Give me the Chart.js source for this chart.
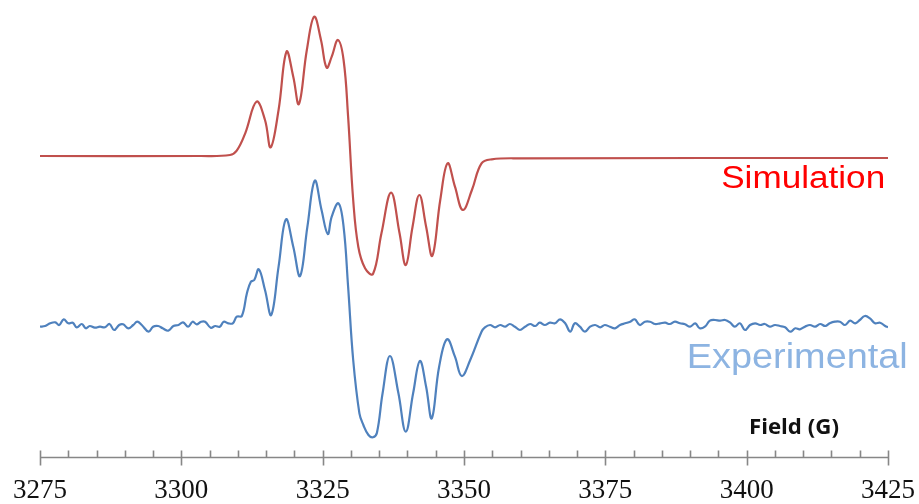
<!DOCTYPE html>
<html>
<head>
<meta charset="utf-8">
<script src="https://cdn.jsdelivr.net/npm/chart.js@4"></script>
<style>
  html, body { margin: 0; padding: 0; background: #fff; }
  #epr { display: block; }
</style>
</head>
<body>
<canvas id="epr" width="919" height="504"></canvas>
<script>
// Field axis
const fieldMin = 3275;
const fieldMax = 3425;
const majorStep = 25;
const minorStep = 5;

// Simulated spectrum (field in G, intensity in arbitrary units)
const simField = [3275.0, 3303.3, 3308.6, 3309.8, 3311.3, 3313.3, 3314.8, 3315.8, 3317.2, 3318.6,
  3319.8, 3320.8, 3322.2, 3323.5, 3324.7, 3325.7, 3326.6, 3327.7, 3328.7, 3329.5,
  3330.4, 3331.3, 3332.5, 3333.9, 3335.4, 3337.1, 3338.6, 3339.7, 3340.9, 3342.1,
  3343.3, 3344.4, 3345.8, 3347.1, 3348.4, 3349.8, 3351.4, 3353.1, 3354.9, 3359.9, 3425.0];
const simValue = [301, 301, 302, 306.3, 323.7, 355.3, 337, 309.7, 347, 405.3,
  380.3, 353, 407, 440.3, 417, 389.3, 400.3, 417, 397, 340.3,
  257, 210.3, 188.7, 183, 223.7, 264.3, 223.7, 192, 230.3, 262,
  230.3, 201.3, 257, 293.7, 270.3, 247, 267, 293.7, 297.7, 298.7, 299];

// Experimental spectrum
const expField = [3275.0, 3275.9, 3276.8, 3277.7, 3278.4, 3279.2, 3280.0, 3280.8, 3281.5, 3282.4,
  3283.1, 3283.8, 3284.7, 3285.6, 3286.5, 3287.3, 3288.1, 3289.0, 3289.7, 3290.6,
  3291.5, 3292.2, 3293.0, 3294.2, 3295.0, 3295.9, 3296.7, 3297.7, 3298.6, 3299.5,
  3300.3, 3301.2, 3302.0, 3302.7, 3303.5, 3304.2, 3305.2, 3306.0, 3306.8, 3307.5,
  3308.3, 3309.1, 3309.8, 3310.7, 3311.6, 3312.3, 3312.9, 3313.7, 3314.8, 3315.9,
  3317.2, 3318.5, 3319.8, 3321.0, 3322.3, 3323.6, 3324.8, 3325.9, 3326.6, 3327.8,
  3328.7, 3329.5, 3330.4, 3331.5, 3332.2, 3333.1, 3333.9, 3334.6, 3335.6, 3336.9,
  3338.4, 3339.7, 3341.0, 3342.2, 3343.3, 3344.3, 3345.6, 3347.0, 3348.4, 3349.6,
  3351.1, 3353.1, 3353.7, 3354.6, 3355.5, 3356.4, 3357.3, 3358.1, 3359.0, 3359.9,
  3360.8, 3361.7, 3362.6, 3363.4, 3364.3, 3365.2, 3366.1, 3367.0, 3367.9, 3368.8,
  3369.6, 3370.5, 3371.4, 3372.3, 3373.2, 3374.1, 3374.9, 3375.8, 3376.7, 3377.6,
  3378.5, 3379.4, 3380.2, 3381.1, 3382.0, 3382.9, 3383.8, 3384.7, 3385.6, 3386.4,
  3387.3, 3388.2, 3389.1, 3390.0, 3390.9, 3391.7, 3392.6, 3393.5, 3394.4, 3395.3,
  3396.2, 3397.1, 3397.9, 3398.8, 3399.7, 3400.6, 3401.5, 3402.4, 3403.2, 3404.1,
  3405.0, 3405.9, 3406.8, 3407.7, 3408.6, 3409.4, 3410.3, 3411.2, 3412.1, 3413.0,
  3413.9, 3414.7, 3415.6, 3416.5, 3417.4, 3418.3, 3419.2, 3420.0, 3420.9, 3421.8,
  3422.7, 3423.6, 3424.5, 3425.0];
const expValue = [130.3, 131, 133.7, 134.7, 132, 137.7, 133.7, 134.3, 129.7, 133,
  128.7, 131, 129.3, 130.3, 129.7, 133, 127, 132, 132.7, 128.7,
  132, 135.3, 132, 125.3, 130.3, 131, 128.7, 126.3, 131, 132,
  134.7, 130.3, 135.3, 132.7, 135.3, 135.3, 129.3, 131, 130.3, 135.3,
  133.7, 133.7, 140.3, 141, 163.7, 175.3, 177, 187.7, 167, 142,
  190.3, 237.7, 210.3, 181, 230.3, 276.3, 247, 223, 240.3, 253.7,
  230.3, 170.3, 97, 43.7, 32, 22, 19.7, 24.3, 63.7, 101,
  63.7, 25.3, 63.7, 96, 70.3, 38.7, 90.3, 117.7, 100.3, 81,
  97, 125.3, 129.7, 132, 129.7, 132, 130.3, 133, 130.3, 127,
  130.3, 133, 131, 134.3, 132, 134.3, 133.7, 137.7, 133.7, 125.3,
  133.7, 130.3, 125.3, 130.3, 132, 129.7, 132, 130.3, 128.7, 132,
  133.7, 135.3, 137.7, 132, 135.3, 135.3, 133, 133.7, 134.3, 133,
  135.3, 133.7, 132.7, 130.3, 133.7, 128.7, 130.3, 136.3, 137, 136.3,
  137, 134.3, 130.3, 133.7, 127, 132, 133.7, 132, 133, 130.3,
  132, 131, 129.7, 125.3, 128.7, 127.7, 130.3, 132, 130.3, 133,
  131, 133.7, 135.3, 135.3, 132, 136.3, 133.7, 137, 141, 138.7,
  133.7, 134.3, 131, 129.7];

// Series names: [text, field of right edge, intensity of baseline, colour, font size, width]
const seriesLabels = [
  ["Simulation", 3424.5, 269, "#ff0000", 31, 164],
  ["Experimental", 3428.5, 89, "#8db4e2", 35, 221]
];
const axisTitle = "Field (G)";

const toXY = (xs, ys) => xs.map((x, i) => ({ x: x, y: ys[i] }));

const eprAxis = {
  id: "eprAxis",
  afterDatasetsDraw(chart) {
    const { ctx, chartArea, scales } = chart;
    const xs = scales.x;
    const base = Math.round(chartArea.bottom) + 0.5;
    ctx.save();
    ctx.strokeStyle = "#878787";
    ctx.lineWidth = 1.6;
    ctx.beginPath();
    ctx.moveTo(xs.getPixelForValue(fieldMin), base);
    ctx.lineTo(xs.getPixelForValue(fieldMax), base);
    for (let v = fieldMin; v <= fieldMax; v += minorStep) {
      const px = Math.round(xs.getPixelForValue(v)) + 0.5;
      const major = (v - fieldMin) % majorStep === 0;
      ctx.moveTo(px, base - 7);
      ctx.lineTo(px, major ? base + 8 : base);
    }
    ctx.stroke();

    // series names, stretched a little to match the original lettering
    ctx.textBaseline = "alphabetic";
    seriesLabels.forEach(([text, fx, fy, color, size, width]) => {
      ctx.font = size + "px 'Liberation Sans', Arial, sans-serif";
      const w = ctx.measureText(text).width;
      ctx.save();
      ctx.translate(xs.getPixelForValue(fx), scales.y.getPixelForValue(fy));
      ctx.scale(width / w, 1);
      ctx.fillStyle = color;
      ctx.textAlign = "right";
      ctx.fillText(text, 0, 0);
      ctx.restore();
    });

    // axis title sits above the axis, at the right
    ctx.font = "bold 21px 'Open Sans', 'DejaVu Sans', sans-serif";
    const tw = ctx.measureText(axisTitle).width;
    ctx.save();
    ctx.translate(xs.getPixelForValue(3400.4), scales.y.getPixelForValue(23));
    ctx.scale(90 / tw, 1);
    ctx.fillStyle = "#111";
    ctx.textAlign = "left";
    ctx.fillText(axisTitle, 0, 0);
    ctx.restore();
    ctx.restore();
  }
};

new Chart(document.getElementById("epr").getContext("2d"), {
  type: "line",
  data: {
    datasets: [
      {
        label: "Simulation",
        data: toXY(simField, simValue),
        borderColor: "#c0504d",
        borderWidth: 2.2,
        pointRadius: 0,
        tension: 0.4,
        fill: false
      },
      {
        label: "Experimental",
        data: toXY(expField, expValue),
        borderColor: "#4f81bd",
        borderWidth: 2.2,
        pointRadius: 0,
        tension: 0.4,
        fill: false
      }
    ]
  },
  options: {
    responsive: false,
    animation: false,
    layout: { padding: { left: 40, right: 31, top: 0, bottom: 0 } },
    plugins: {
      legend: { display: false },
      tooltip: { enabled: false }
    },
    scales: {
      x: {
        type: "linear",
        min: fieldMin,
        max: fieldMax,
        grid: { display: false },
        border: { display: false },
        ticks: {
          stepSize: majorStep,
          padding: 10,
          color: "#111",
          font: { family: "'Liberation Serif', 'DejaVu Serif', serif", size: 27 },
          maxRotation: 0,
          callback: (v) => String(v)
        },
        afterFit: (scale) => {
          scale.height = 47;
          scale.paddingLeft = 0;
          scale.paddingRight = 0;
        }
      },
      y: {
        display: false,
        min: 0,
        max: 457
      }
    }
  },
  plugins: [eprAxis]
});
</script>
</body>
</html>
